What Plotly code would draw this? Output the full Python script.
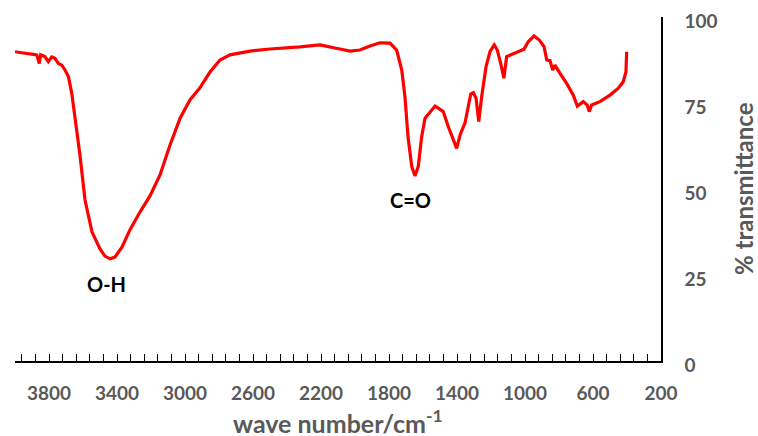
import plotly.graph_objects as go

wavenumber = [4000, 3971, 3931, 3902, 3872, 3857, 3849, 3824, 3804, 3784, 3765, 3745, 3725, 3706,
              3686, 3666, 3647, 3637, 3618, 3588, 3547, 3500, 3471, 3441, 3412, 3371, 3324, 3265,
              3206, 3147, 3088, 3029, 2971, 2912, 2853, 2794, 2735, 2618, 2500, 2324, 2206, 2118,
              2029, 1971, 1912, 1853, 1794, 1755, 1725, 1706, 1688, 1666, 1647, 1628, 1608, 1588,
              1559, 1529, 1510, 1481, 1451, 1422, 1402, 1382, 1353, 1334, 1319, 1304, 1288, 1272,
              1255, 1229, 1206, 1181, 1163, 1143, 1124, 1108, 1084, 1059, 1029, 1006, 981, 947,
              916, 888, 872, 853, 837, 824, 794, 755, 716, 692, 657, 634, 622, 608, 559, 500, 451,
              422, 406, 402]
transmittance = [89.9, 89.6, 89.4, 89.2, 89.0, 86.5, 89.0, 88.5, 87.0, 88.4, 88.0, 86.5, 86.0, 84.6,
                 82.7, 77.8, 71.0, 67.6, 59.9, 46.8, 37.5, 32.6, 30.5, 29.7, 30.2, 33.1, 38.1, 43.3,
                 48.0, 54.1, 62.8, 70.6, 75.9, 79.4, 84.0, 87.5, 89.0, 90.1, 90.7, 91.3, 91.9, 91.0,
                 90.1, 90.4, 91.6, 92.5, 92.4, 90.4, 84.6, 76.8, 65.1, 56.5, 53.8, 56.5, 65.2, 70.6,
                 72.5, 74.1, 73.5, 72.5, 68.1, 64.2, 61.8, 65.7, 69.2, 73.9, 77.6, 78.0, 76.4, 69.6,
                 76.8, 85.6, 89.9, 91.9, 90.4, 86.5, 82.2, 88.5, 89.0, 89.4, 90.2, 90.6, 92.8, 94.5,
                 93.3, 91.4, 87.5, 87.3, 84.6, 86.0, 83.6, 80.7, 77.3, 74.1, 75.4, 74.4, 72.5, 74.4,
                 75.4, 77.3, 79.3, 81.2, 84.1, 89.9]

x_tick_vals = [3800, 3400, 3000, 2600, 2200, 1800, 1400, 1000, 600, 200]
y_tick_vals = [0, 25, 50, 75, 100]

peak_labels = ["O-H", "C=O"]
peak_x = [3459, 1676]
peak_y = [22.3, 46.8]

x_title = "wave number/cm<sup>-1</sup>"
y_title = "% transmittance"

FONT = "Lato"
GREY = "#595959"

fig = go.Figure()
fig.add_trace(go.Scatter(x=wavenumber, y=transmittance, mode="lines",
                         line=dict(color="#FF0000", width=3.2), showlegend=False))

for lab, px, py in zip(peak_labels, peak_x, peak_y):
    fig.add_annotation(x=px, y=py, text=lab, showarrow=False,
                       font=dict(family=FONT, size=20, color="black", weight="bold"))

# axis titles
fig.add_annotation(xref="paper", yref="paper", x=0.5, y=0, yshift=-79,
                   xanchor="center", yanchor="bottom", text=x_title, showarrow=False,
                   font=dict(family=FONT, size=25, color=GREY, weight="bold"))
fig.add_annotation(xref="paper", yref="paper", x=1, y=0.5, xshift=82,
                   xanchor="center", yanchor="middle", text=y_title, showarrow=False,
                   textangle=-90,
                   font=dict(family=FONT, size=24, color=GREY, weight="bold"))

fig.update_layout(
    width=758, height=436,
    margin=dict(l=15, r=97, t=17, b=75, autoexpand=False),
    paper_bgcolor="white", plot_bgcolor="white",
    xaxis=dict(range=[4000, 200], tickvals=x_tick_vals, ticks="", showgrid=False,
               zeroline=False, showline=True, linecolor="black", linewidth=1.5,
               automargin=False,
               tickfont=dict(family=FONT, size=19, color=GREY, weight="bold"),
               ticklabelstandoff=14,
               minor=dict(ticks="inside", tick0=200, dtick=80, ticklen=7,
                          tickcolor="black", tickwidth=1, showgrid=False)),
    yaxis=dict(range=[0, 100], side="right", tickvals=y_tick_vals, ticks="",
               showgrid=False, zeroline=False, showline=True, linecolor="black",
               linewidth=1.5, ticklabelstandoff=18, ticklabelshift=4,
               automargin=False,
               tickfont=dict(family=FONT, size=19, color=GREY, weight="bold")),
)

fig.write_html("out.html")
